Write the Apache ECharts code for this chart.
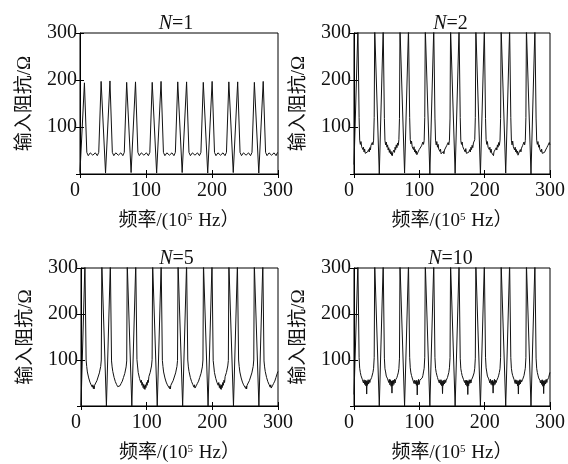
<!DOCTYPE html>
<html>
<head>
<meta charset="utf-8">
<script src="https://cdn.jsdelivr.net/npm/echarts@6/dist/echarts.min.js"></script>
<style>
  html, body { margin: 0; background: #fff; }
  #chart { width: 568px; height: 464px; }
</style>
</head>
<body>
<div id="chart"></div>
<script>
// frequency axis, in 10^5 Hz
const freqTicks = [0, 100, 200, 300]
const panelN = ['1', '2', '5', '10']

// N=1 sample points
const freqN1 = [
  0, 6.7, 10.3, 12.5, 15.5, 19.4, 23.2, 26.2, 28.4, 32,
  38.7, 45.4, 49, 51.2, 54.2, 58.1, 61.9, 64.9, 67.1, 70.7,
  77.4, 84.1, 87.7, 89.9, 92.9, 96.8, 100.6, 103.6, 105.8, 109.4,
  116.1, 122.8, 126.4, 128.6, 131.6, 135.5, 139.3, 142.3, 144.5, 148.1,
  154.8, 161.5, 165.1, 167.3, 170.3, 174.2, 178, 181, 183.2, 186.8,
  193.5, 200.2, 203.8, 206, 209, 212.9, 216.7, 219.7, 221.9, 225.5,
  232.2, 238.9, 242.5, 244.7, 247.7, 251.6, 255.4, 258.4, 260.6, 264.2,
  270.9, 277.6, 281.2, 283.4, 286.4, 290.3, 294.1, 297.1, 299.3
]
const impN1 = [
  5, 194, 46, 39, 45, 40, 45, 39, 46, 197,
  2, 198, 46, 39, 45, 40, 45, 39, 46, 195,
  3, 196, 46, 39, 45, 40, 45, 39, 46, 195,
  2, 197, 46, 39, 45, 40, 45, 39, 46, 196,
  3, 196, 46, 39, 45, 40, 45, 39, 46, 195,
  2, 197, 46, 39, 45, 40, 45, 39, 46, 196,
  3, 196, 46, 39, 45, 40, 45, 39, 46, 195,
  2, 197, 46, 39, 45, 40, 45, 39, 46
]

// sample points shared by N=2, 5, 10
const freqGrid = [
  0, 6, 7, 7.8, 8.7, 9.7, 10.7, 11.7, 12.7, 13.6, 14.5, 15.4, 16.3, 17.2, 18.1, 18.8, 19.4, 20, 20.7, 21.5, 22.4, 23.3, 24.2, 25.1, 26, 27, 28, 29, 30, 30.9, 31.7, 32.7,
  38.7, 44.7, 45.7, 46.5, 47.4, 48.4, 49.4, 50.4, 51.4, 52.3, 53.2, 54.1, 55, 55.9, 56.8, 57.5, 58.1, 58.7, 59.4, 60.2, 61.1, 62, 62.9, 63.8, 64.7, 65.7, 66.7, 67.7, 68.7, 69.6, 70.4, 71.4,
  77.4, 83.4, 84.4, 85.2, 86.1, 87.1, 88.1, 89.1, 90.1, 91, 91.9, 92.8, 93.7, 94.6, 95.5, 96.2, 96.8, 97.4, 98.1, 98.9, 99.8, 100.7, 101.6, 102.5, 103.4, 104.4, 105.4, 106.4, 107.4, 108.3, 109.1, 110.1,
  116.1, 122.1, 123.1, 123.9, 124.8, 125.8, 126.8, 127.8, 128.8, 129.7, 130.6, 131.5, 132.4, 133.3, 134.2, 134.9, 135.5, 136.1, 136.8, 137.6, 138.5, 139.4, 140.3, 141.2, 142.1, 143.1, 144.1, 145.1, 146.1, 147, 147.8, 148.8,
  154.8, 160.8, 161.8, 162.6, 163.5, 164.5, 165.5, 166.5, 167.5, 168.4, 169.3, 170.2, 171.1, 172, 172.9, 173.6, 174.2, 174.8, 175.5, 176.3, 177.2, 178.1, 179, 179.9, 180.8, 181.8, 182.8, 183.8, 184.8, 185.7, 186.5, 187.5,
  193.5, 199.5, 200.5, 201.3, 202.2, 203.2, 204.2, 205.2, 206.2, 207.1, 208, 208.9, 209.8, 210.7, 211.6, 212.3, 212.9, 213.5, 214.2, 215, 215.9, 216.8, 217.7, 218.6, 219.5, 220.5, 221.5, 222.5, 223.5, 224.4, 225.2, 226.2,
  232.2, 238.2, 239.2, 240, 240.9, 241.9, 242.9, 243.9, 244.9, 245.8, 246.7, 247.6, 248.5, 249.4, 250.3, 251, 251.6, 252.2, 252.9, 253.7, 254.6, 255.5, 256.4, 257.3, 258.2, 259.2, 260.2, 261.2, 262.2, 263.1, 263.9, 264.9,
  270.9, 276.9, 277.9, 278.7, 279.6, 280.6, 281.6, 282.6, 283.6, 284.5, 285.4, 286.3, 287.2, 288.1, 289, 289.7, 290.3, 290.9, 291.6, 292.4, 293.3, 294.2, 295.1, 296, 296.9, 297.9, 298.9, 299.9
]
// values above 300 run off the top of the frame
const impN2 = [
  20, 310, 310, 120, 72, 63, 69, 58, 62, 52, 57, 47, 53, 44, 48, 41, 44, 40, 47, 43, 52, 47, 56, 51, 61, 57, 67, 62, 72, 120, 310, 310,
  0, 310, 310, 118, 71, 62, 68, 57, 62, 51, 56, 46, 52, 43, 48, 40, 45, 39, 46, 42, 51, 46, 57, 52, 62, 56, 66, 61, 73, 118, 310, 310,
  2, 310, 310, 120, 73, 64, 70, 58, 61, 52, 58, 47, 52, 44, 49, 41, 43, 40, 47, 44, 52, 48, 56, 50, 60, 57, 68, 63, 71, 120, 310, 310,
  0, 310, 310, 119, 72, 62, 69, 57, 63, 53, 57, 48, 53, 43, 47, 40, 44, 41, 48, 43, 51, 47, 55, 51, 61, 58, 67, 62, 72, 119, 310, 310,
  1, 310, 310, 120, 71, 63, 68, 58, 62, 52, 56, 47, 54, 44, 48, 41, 45, 40, 46, 43, 52, 47, 57, 52, 61, 56, 66, 62, 73, 120, 310, 310,
  0, 310, 310, 118, 73, 63, 69, 57, 61, 52, 57, 46, 53, 45, 48, 41, 44, 39, 47, 44, 51, 48, 56, 51, 62, 57, 67, 61, 72, 118, 310, 310,
  2, 310, 310, 120, 72, 62, 70, 58, 62, 51, 57, 47, 52, 44, 49, 40, 44, 40, 47, 43, 52, 47, 55, 51, 61, 58, 68, 62, 71, 120, 310, 310,
  0, 310, 310, 119, 72, 63, 69, 57, 62, 52, 56, 47, 53, 44, 48, 41, 45, 40, 46, 43, 51, 47, 56, 52, 61, 57, 67, 62
]
const impN5 = [
  0, 310, 310, 100, 86, 74, 72, 61, 63, 52, 55, 46, 50, 41, 46, 38, 43, 37, 45, 41, 50, 46, 55, 52, 63, 61, 72, 74, 86, 100, 310, 310,
  0, 310, 310, 98, 85, 75, 71, 62, 62, 53, 54, 47, 49, 42, 45, 39, 42, 38, 44, 42, 49, 47, 54, 53, 62, 62, 71, 75, 85, 98, 310, 310,
  0, 310, 310, 101, 87, 73, 72, 60, 64, 51, 56, 45, 51, 40, 47, 37, 44, 36, 46, 40, 51, 45, 56, 51, 64, 60, 73, 73, 87, 101, 310, 310,
  0, 310, 310, 99, 86, 74, 71, 61, 63, 52, 54, 46, 50, 42, 45, 38, 43, 37, 45, 41, 50, 46, 55, 52, 63, 61, 72, 74, 86, 99, 310, 310,
  0, 310, 310, 100, 85, 75, 72, 62, 62, 53, 55, 47, 49, 41, 46, 39, 42, 38, 44, 42, 49, 47, 54, 53, 62, 62, 71, 75, 85, 100, 310, 310,
  0, 310, 310, 99, 87, 73, 71, 60, 64, 51, 55, 45, 51, 40, 47, 37, 44, 36, 46, 40, 51, 45, 56, 51, 64, 60, 73, 73, 87, 99, 310, 310,
  0, 310, 310, 100, 86, 74, 72, 61, 63, 52, 54, 46, 50, 42, 45, 38, 43, 37, 45, 41, 50, 46, 55, 52, 63, 61, 72, 74, 86, 100, 310, 310,
  0, 310, 310, 98, 85, 75, 71, 62, 62, 53, 55, 47, 49, 41, 46, 39, 42, 38, 44, 42, 49, 47, 54, 53, 62, 62, 71, 75
]
const impN10 = [
  25, 310, 310, 105, 82, 73, 66, 62, 58, 56, 50, 57, 47, 56, 44, 55, 26, 54, 45, 57, 48, 57, 51, 56, 58, 62, 66, 73, 82, 105, 310, 310,
  0, 310, 310, 104, 81, 74, 65, 62, 59, 55, 51, 58, 46, 57, 43, 54, 28, 55, 44, 56, 47, 58, 50, 57, 57, 62, 67, 72, 81, 104, 310, 310,
  0, 310, 310, 106, 83, 72, 66, 61, 58, 57, 49, 56, 48, 55, 45, 56, 24, 53, 46, 58, 47, 56, 52, 55, 58, 61, 66, 74, 82, 106, 310, 310,
  0, 310, 310, 105, 82, 73, 67, 62, 57, 56, 50, 57, 47, 57, 44, 54, 27, 55, 45, 56, 48, 57, 51, 56, 59, 62, 65, 73, 83, 105, 310, 310,
  0, 310, 310, 104, 81, 73, 66, 63, 58, 55, 51, 56, 46, 56, 43, 55, 25, 54, 44, 57, 49, 57, 50, 57, 58, 63, 66, 72, 82, 104, 310, 310,
  0, 310, 310, 106, 83, 74, 65, 62, 59, 56, 50, 58, 47, 55, 45, 56, 28, 53, 45, 58, 47, 56, 51, 56, 57, 62, 67, 73, 81, 106, 310, 310,
  0, 310, 310, 105, 82, 72, 66, 62, 58, 57, 49, 57, 48, 56, 44, 54, 26, 55, 46, 57, 48, 57, 52, 55, 58, 61, 66, 74, 82, 105, 310, 310,
  0, 310, 310, 104, 82, 73, 67, 61, 58, 56, 50, 56, 47, 57, 43, 55, 27, 54, 45, 56, 48, 58, 51, 56, 58, 62, 66, 73
]

const panelFreq = [freqN1, freqGrid, freqGrid, freqGrid]
const panelImp = [impN1, impN2, impN5, impN10]

// plot frames, px
const layout = [
  { left: 80, top: 33, width: 198 },
  { left: 354, top: 33, width: 199 },
  { left: 81, top: 268, width: 197 },
  { left: 354, top: 268, width: 199 },
]
const PLOT_H = 141

const SERIF = "'Liberation Serif', 'Times New Roman', 'Noto Sans CJK SC', serif"
const INK = '#111'

const option = {
  animation: false,
  backgroundColor: '#fff',
  title: [], grid: [], xAxis: [], yAxis: [], series: []
}

layout.forEach((g, i) => {
  option.grid.push({
    left: g.left, top: g.top, width: g.width, height: PLOT_H,
    show: true, borderColor: '#000', borderWidth: 1, backgroundColor: 'transparent'
  })
  option.title.push({
    text: '{i|N}=' + panelN[i],
    left: g.left + g.width / 2 - 3,
    top: g.top - 19,
    textAlign: 'center',
    padding: 0,
    textStyle: {
      fontFamily: SERIF, fontSize: 20, fontWeight: 'normal', color: INK,
      rich: { i: { fontFamily: SERIF, fontSize: 20, fontStyle: 'italic', color: INK } }
    }
  })
  const tick = { inside: true, length: 4, lineStyle: { color: '#000' } }
  option.xAxis.push({
    gridIndex: i, type: 'value', position: 'bottom',
    min: freqTicks[0], max: freqTicks[freqTicks.length - 1], interval: 100,
    axisLine: { lineStyle: { color: '#000', width: 1 } },
    axisTick: tick,
    splitLine: { show: false },
    axisLabel: { margin: 7, alignMinLabel: 'right', fontFamily: SERIF, fontSize: 20, color: INK },
    name: '频率/(10{sup|5} Hz）',
    nameLocation: 'middle', nameGap: 38,
    nameTextStyle: {
      fontFamily: SERIF, fontSize: 19, color: INK,
      rich: { sup: { fontFamily: SERIF, fontSize: 11, verticalAlign: 'top', padding: [0, 1, 8, 0], color: INK } }
    }
  })
  option.xAxis.push({
    gridIndex: i, type: 'value', position: 'top', min: 0, max: 300, interval: 100,
    axisLine: { show: false }, axisTick: tick, axisLabel: { show: false }, splitLine: { show: false }
  })
  option.yAxis.push({
    gridIndex: i, type: 'value', position: 'left', min: 0, max: 300, interval: 100,
    axisLine: { lineStyle: { color: '#000', width: 1 } },
    axisTick: tick,
    splitLine: { show: false },
    axisLabel: { margin: 3, showMinLabel: false, fontFamily: SERIF, fontSize: 20, color: INK },
    name: '输入阻抗/Ω',
    nameLocation: 'middle', nameGap: 45,
    nameTextStyle: { fontFamily: SERIF, fontSize: 19, color: INK }
  })
  option.yAxis.push({
    gridIndex: i, type: 'value', position: 'right', min: 0, max: 300, interval: 100,
    axisLine: { show: false }, axisTick: tick, axisLabel: { show: false }, splitLine: { show: false }
  })
  option.series.push({
    type: 'line',
    xAxisIndex: 2 * i, yAxisIndex: 2 * i,
    data: panelFreq[i].map((f, k) => [f, panelImp[i][k]]),
    showSymbol: false,
    clip: true,
    lineStyle: { color: INK, width: 1 }
  })
})

const chart = echarts.init(document.getElementById('chart'))
chart.setOption(option)
</script>
</body>
</html>
